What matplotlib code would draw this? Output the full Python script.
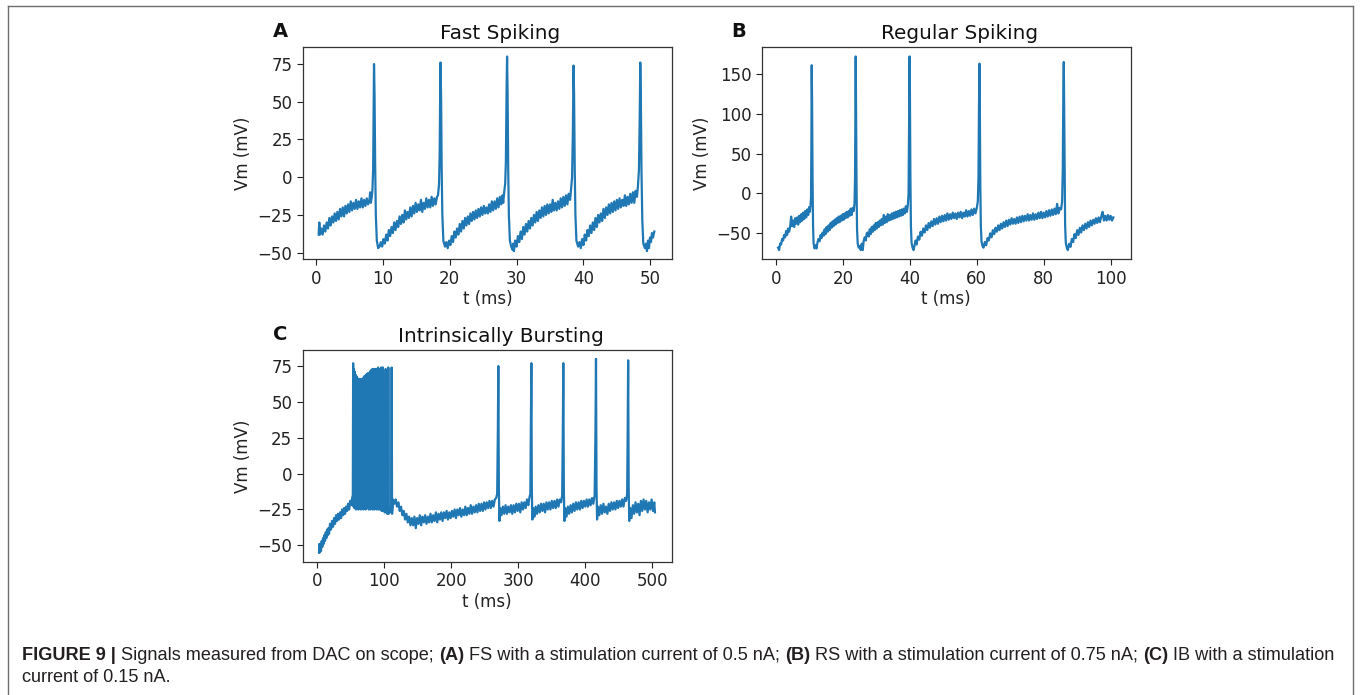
import matplotlib
matplotlib.use("Agg")
import matplotlib.pyplot as plt
from matplotlib.lines import Line2D

# ---- data (t in ms, Vm in mV) ----
fs_trace = [
    (0.4, -38), (0.5, -30), (0.6, -38), (0.8, -34), (1.0, -38), (1.2, -32), (1.4, -36), (1.6, -30),
    (1.8, -34), (2.0, -27), (2.2, -32), (2.4, -26), (2.6, -30), (2.8, -24), (3.0, -29), (3.2, -23),
    (3.4, -28), (3.6, -21), (3.8, -26), (4.0, -20), (4.2, -26), (4.4, -19), (4.6, -24), (4.8, -18),
    (5.0, -23), (5.2, -16), (5.4, -22), (5.6, -17), (5.8, -21), (6.0, -15), (6.2, -21), (6.4, -16),
    (6.6, -20), (6.8, -14), (7.0, -20), (7.2, -15), (7.4, -19), (7.6, -14), (7.8, -18), (8.0, -15),
    (8.1, -10), (8.2, -17), (8.35, -13), (8.45, -8), (8.55, 5), (8.62, 40), (8.68, 75), (8.76, 55),
    (8.85, 10), (8.95, -25), (9.1, -42), (9.3, -47),
    (9.5, -46), (9.7, -43), (9.9, -46), (10.1, -41), (10.3, -44), (10.5, -38), (10.7, -42), (10.9, -35),
    (11.1, -39), (11.3, -33), (11.5, -37), (11.7, -30), (11.9, -35), (12.1, -29), (12.3, -33), (12.5, -26),
    (12.7, -31), (12.9, -25), (13.1, -30), (13.3, -22), (13.5, -28), (13.7, -23), (13.9, -27), (14.1, -20),
    (14.3, -26), (14.5, -19), (14.7, -24), (14.9, -17), (15.1, -23), (15.3, -18), (15.5, -22), (15.7, -15),
    (15.9, -23), (16.1, -17), (16.3, -21), (16.5, -14), (16.7, -20), (16.9, -15), (17.1, -20), (17.3, -13),
    (17.5, -19), (17.7, -14), (17.9, -18), (18.1, -13), (18.25, -12), (18.4, -5), (18.5, 15), (18.58, 60),
    (18.63, 76), (18.72, 50), (18.8, 5), (18.9, -25), (19.05, -42), (19.3, -46),
    (19.5, -43), (19.7, -47), (19.9, -42), (20.1, -45), (20.3, -39), (20.5, -43), (20.7, -36), (20.9, -40),
    (21.1, -34), (21.3, -38), (21.5, -31), (21.7, -36), (21.9, -29), (22.1, -34), (22.3, -27), (22.5, -32),
    (22.7, -26), (22.9, -31), (23.1, -24), (23.3, -29), (23.5, -23), (23.7, -28), (23.9, -22), (24.1, -27),
    (24.3, -21), (24.5, -26), (24.7, -20), (24.9, -25), (25.1, -19), (25.3, -24), (25.5, -20), (25.7, -24),
    (25.9, -18), (26.1, -23), (26.3, -16), (26.5, -22), (26.7, -16), (26.9, -21), (27.1, -14), (27.3, -20),
    (27.5, -13), (27.7, -18), (27.9, -12), (28.0, -17), (28.15, -10), (28.3, -4), (28.4, 10), (28.5, 55),
    (28.58, 80), (28.66, 55), (28.75, 5), (28.85, -25), (29.0, -42), (29.2, -46), (29.4, -48),
    (29.5, -44), (29.6, -49), (29.8, -42), (30.0, -46), (30.2, -39), (30.4, -43), (30.6, -36), (30.8, -41),
    (31.0, -33), (31.2, -38), (31.4, -31), (31.6, -36), (31.8, -29), (32.0, -34), (32.2, -27), (32.4, -32),
    (32.6, -25), (32.8, -30), (33.0, -23), (33.2, -29), (33.4, -22), (33.6, -27), (33.8, -20), (34.0, -26),
    (34.2, -19), (34.4, -25), (34.6, -18), (34.8, -24), (35.0, -18), (35.2, -23), (35.4, -15), (35.6, -22),
    (35.8, -17), (36.0, -22), (36.2, -16), (36.4, -21), (36.6, -14), (36.8, -20), (37.0, -13), (37.2, -19),
    (37.4, -12), (37.6, -18), (37.8, -11), (38.0, -15), (38.15, -8), (38.3, 0), (38.42, 30), (38.52, 74),
    (38.6, 55), (38.7, 5), (38.8, -25), (38.95, -42), (39.2, -46),
    (39.4, -43), (39.6, -47), (39.8, -41), (40.0, -45), (40.2, -38), (40.4, -42), (40.6, -35), (40.8, -39),
    (41.0, -32), (41.2, -37), (41.4, -30), (41.6, -35), (41.8, -27), (42.0, -33), (42.2, -25), (42.4, -30),
    (42.6, -24), (42.8, -29), (43.0, -21), (43.2, -27), (43.4, -20), (43.6, -25), (43.8, -18), (44.0, -24),
    (44.2, -17), (44.4, -23), (44.6, -16), (44.8, -22), (45.0, -15), (45.2, -21), (45.4, -14), (45.6, -20),
    (45.8, -15), (46.0, -19), (46.2, -12), (46.4, -19), (46.6, -13), (46.8, -18), (47.0, -11), (47.2, -17),
    (47.4, -10), (47.6, -17), (47.8, -9), (48.0, -13), (48.15, -6), (48.3, 5), (48.42, 40), (48.5, 76),
    (48.58, 55), (48.68, 5), (48.8, -28), (48.95, -44), (49.2, -47),
    (49.35, -44), (49.5, -49), (49.65, -42), (49.8, -47), (49.95, -40), (50.1, -43), (50.25, -37),
    (50.4, -40), (50.6, -36),
]

rs_trace = [
    (0.6, -68), (0.9, -71), (1.2, -63), (1.5, -64), (1.8, -57), (2.1, -59), (2.4, -52), (2.7, -55),
    (3.0, -47), (3.3, -52), (3.6, -44), (3.9, -48), (4.2, -42), (4.5, -29), (4.8, -41), (5.1, -34),
    (5.4, -42), (5.7, -31), (6.0, -38), (6.3, -30), (6.6, -39), (6.9, -28), (7.2, -36), (7.5, -26),
    (7.8, -34), (8.1, -24), (8.4, -32), (8.7, -22), (9.0, -30), (9.3, -20), (9.6, -27), (9.9, -17),
    (10.1, -23), (10.3, -15), (10.45, -5), (10.55, 60), (10.65, 161), (10.75, 120), (10.9, 20),
    (11.05, -40), (11.2, -62), (11.5, -69),
    (11.8, -65), (12.1, -69), (12.4, -61), (12.7, -57), (13.0, -60), (13.3, -52), (13.6, -56), (13.9, -49),
    (14.2, -53), (14.5, -45), (14.8, -51), (15.1, -42), (15.4, -48), (15.7, -40), (16.0, -46), (16.3, -37),
    (16.6, -43), (16.9, -35), (17.2, -41), (17.5, -33), (17.8, -39), (18.1, -31), (18.4, -37), (18.7, -29),
    (19.0, -36), (19.3, -28), (19.6, -34), (19.9, -26), (20.2, -33), (20.5, -25), (20.8, -31), (21.1, -23),
    (21.4, -30), (21.7, -22), (22.0, -28), (22.3, -19), (22.6, -27), (22.9, -18), (23.2, -22), (23.45, -12),
    (23.6, 20), (23.72, 120), (23.8, 172), (23.9, 110), (24.05, 10), (24.2, -45), (24.4, -63), (24.7, -68),
    (25.0, -66), (25.3, -71),
    (25.6, -63), (25.9, -71), (26.2, -59), (26.5, -55), (26.8, -59), (27.1, -50), (27.4, -49), (27.7, -54),
    (28.0, -45), (28.3, -51), (28.6, -42), (28.9, -48), (29.2, -40), (29.5, -46), (29.8, -37), (30.1, -44),
    (30.4, -36), (30.7, -42), (31.0, -34), (31.3, -40), (31.6, -32), (31.9, -39), (32.2, -27), (32.5, -37),
    (32.8, -29), (33.1, -36), (33.4, -26), (33.7, -34), (34.0, -27), (34.3, -33), (34.6, -25), (34.9, -32),
    (35.2, -24), (35.5, -31), (35.8, -23), (36.1, -30), (36.4, -22), (36.7, -29), (37.0, -21), (37.3, -28),
    (37.6, -20), (37.9, -27), (38.2, -19), (38.5, -25), (38.8, -16), (39.1, -23), (39.4, -14), (39.6, 0),
    (39.75, 80), (39.9, 172), (40.0, 130), (40.15, 20), (40.3, -40), (40.5, -62), (40.8, -68), (41.1, -71),
    (41.4, -65), (41.7, -59), (42.0, -64), (42.4, -54), (42.8, -58), (43.2, -48), (43.6, -53), (44.0, -44),
    (44.4, -49), (44.8, -40), (45.2, -46), (45.6, -37), (46.0, -43), (46.4, -35), (46.8, -41), (47.2, -32),
    (47.6, -39), (48.0, -31), (48.4, -38), (48.8, -29), (49.2, -36), (49.6, -28), (50.0, -35), (50.4, -27),
    (50.8, -34), (51.2, -25), (51.6, -33), (52.0, -26), (52.4, -32), (52.8, -24), (53.2, -31), (53.6, -25),
    (54.0, -32), (54.4, -24), (54.8, -30), (55.2, -23), (55.6, -31), (56.0, -24), (56.4, -29), (56.8, -21),
    (57.2, -29), (57.6, -22), (58.0, -28), (58.4, -20), (58.8, -27), (59.2, -19), (59.6, -25), (60.0, -18),
    (60.3, -10), (60.5, 20), (60.65, 110), (60.8, 163), (60.9, 110), (61.05, 10), (61.2, -40), (61.4, -60),
    (61.7, -66), (62.0, -68),
    (62.4, -61), (62.8, -65), (63.2, -56), (63.6, -59), (64.0, -50), (64.4, -55), (64.8, -46), (65.2, -51),
    (65.6, -43), (66.0, -48), (66.4, -40), (66.8, -46), (67.2, -38), (67.6, -44), (68.0, -36), (68.4, -42),
    (68.8, -34), (69.2, -41), (69.6, -33), (70.0, -39), (70.4, -31), (70.8, -38), (71.2, -32), (71.6, -38),
    (72.0, -30), (72.4, -37), (72.8, -29), (73.2, -36), (73.6, -28), (74.0, -35), (74.4, -28), (74.8, -34),
    (75.2, -26), (75.6, -34), (76.0, -27), (76.4, -33), (76.8, -25), (77.2, -33), (77.6, -26), (78.0, -32),
    (78.4, -24), (78.8, -31), (79.2, -23), (79.6, -31), (80.0, -24), (80.4, -30), (80.8, -22), (81.2, -29),
    (81.6, -21), (82.0, -28), (82.4, -20), (82.8, -27), (83.2, -19), (83.6, -26), (84.0, -13), (84.4, -25),
    (84.8, -18), (85.2, -20), (85.5, -10), (85.7, 30), (85.85, 120), (86.0, 165), (86.1, 110), (86.25, 10),
    (86.4, -40), (86.6, -62), (86.9, -68), (87.2, -71),
    (87.6, -63), (88.0, -67), (88.4, -57), (88.8, -61), (89.2, -51), (89.6, -56), (90.0, -46), (90.4, -52),
    (90.8, -43), (91.2, -49), (91.6, -40), (92.0, -46), (92.4, -38), (92.8, -44), (93.2, -36), (93.6, -42),
    (94.0, -34), (94.4, -40), (94.8, -33), (95.2, -38), (95.6, -31), (96.0, -37), (96.4, -30), (96.8, -36),
    (97.2, -29), (97.6, -23), (98.0, -34), (98.4, -28), (98.8, -34), (99.2, -27), (99.6, -33), (100.0, -28),
    (100.4, -34), (100.8, -30),
]

ib_trace = [
    (2.5, -55), (3.0, -49), (3.5, -55), (4.5, -50), (5.5, -54), (6.5, -47), (7.5, -51), (8.5, -45),
    (9.5, -49), (10.5, -43), (11.5, -47), (12.5, -41), (13.5, -45), (14.5, -39), (15.5, -43), (16.5, -38),
    (17.5, -42), (19.0, -35), (20.5, -39), (22.0, -33), (23.5, -37), (25.0, -31), (26.5, -35), (28.0, -29),
    (29.5, -33), (31.0, -28), (32.5, -32), (34.0, -27), (35.5, -31), (37.0, -25), (38.5, -29), (40.0, -24),
    (41.5, -28), (43.0, -23), (44.5, -26), (46.0, -21), (47.5, -25), (49.0, -19), (50.5, -22), (52.0, -17),
    (53.0, -15),
    # burst
    (53.5, 77), (54.1, -23), (54.7, 73), (55.3, -24), (55.9, 71), (56.5, -23), (57.1, 69), (57.7, -25),
    (58.3, 68), (58.9, -24), (59.5, 67), (60.1, -23), (60.7, 66), (61.3, -25), (61.9, 65), (62.5, -24),
    (63.1, 66), (63.7, -23), (64.3, 65), (64.9, -25), (65.5, 66), (66.1, -24), (66.7, 65), (67.3, -23),
    (67.9, 66), (68.5, -25), (69.1, 67), (69.7, -24), (70.3, 68), (70.9, -23), (71.5, 68), (72.1, -25),
    (72.7, 69), (73.3, -24), (73.9, 69), (74.5, -24), (75.1, 70), (75.7, -23), (76.3, 69), (76.9, -25),
    (77.5, 70), (78.1, -24), (78.7, 71), (79.3, -25), (79.9, 72), (80.5, -24), (81.1, 72), (81.7, -23),
    (82.3, 73), (82.9, -25), (83.5, 72), (84.1, -24), (84.7, 73), (85.3, -25), (85.9, 72), (86.5, -24),
    (87.1, 73), (87.7, -23), (88.3, 72), (88.9, -25), (89.5, 73), (90.1, -24), (90.7, 74), (91.3, -25),
    (91.9, 73), (92.5, -24), (93.1, 72), (93.7, -25), (94.3, 73), (94.9, -24), (95.5, 74), (96.1, -26),
    (96.7, 73), (97.3, -25), (97.9, 74), (98.6, -26), (99.5, -24), (100.5, -27), (101.5, -25), (102.0, 73),
    (102.6, -27), (103.5, -24), (104.5, -28), (105.5, -25), (106.0, 74), (106.6, -28), (107.5, -25),
    (108.5, -27), (109.5, -23), (110.3, -26), (111.0, 74), (111.6, -28), (112.3, -24),
    # slow trough after burst
    (113.0, -18), (115.0, -21), (117.0, -18), (119.0, -23), (121.0, -20), (123.0, -26), (125.0, -23),
    (127.0, -29), (129.0, -26), (131.0, -32), (133.0, -28), (135.0, -34), (137.0, -30), (139.0, -36),
    (141.0, -31), (143.0, -36), (145.0, -30), (147.0, -38), (149.0, -31), (151.0, -35), (153.0, -29),
    (155.0, -36), (157.0, -30), (159.0, -34), (161.0, -29), (163.0, -35), (165.0, -30), (167.0, -34),
    (169.0, -28), (171.0, -34), (173.0, -29), (175.0, -33), (177.0, -27), (179.0, -34), (181.0, -28),
    (183.0, -32), (185.0, -27), (187.0, -33), (189.0, -27), (191.0, -31), (193.0, -26), (195.0, -32),
    (197.0, -27), (199.0, -31), (201.0, -26), (203.0, -30), (205.0, -25), (207.0, -31), (209.0, -25),
    (211.0, -29), (213.0, -24), (215.0, -30), (217.0, -25), (219.0, -29), (221.0, -23), (223.0, -29),
    (225.0, -24), (227.0, -28), (229.0, -22), (231.0, -28), (233.0, -23), (235.0, -27), (237.0, -22),
    (239.0, -27), (241.0, -21), (243.0, -26), (245.0, -21), (247.0, -26), (249.0, -20), (251.0, -25),
    (253.0, -20), (255.0, -24), (257.0, -19), (259.0, -24), (261.0, -19), (263.0, -23), (265.0, -18),
    (267.0, -17), (268.5, -14), (269.5, 30), (270.2, 75), (271.0, -10), (271.8, -33),
    (273.0, -24), (275.0, -29), (277.0, -23), (279.0, -28), (281.0, -22), (283.0, -28), (285.0, -23),
    (287.0, -27), (289.0, -22), (291.0, -28), (293.0, -22), (295.0, -27), (297.0, -21), (299.0, -26),
    (301.0, -21), (303.0, -27), (305.0, -20), (307.0, -25), (309.0, -20), (311.0, -24), (313.0, -18),
    (315.0, -22), (316.5, -17), (318.0, -14), (318.8, 30), (319.5, 77), (320.2, -10), (321.0, -32),
    (322.5, -24), (324.0, -30), (326.0, -23), (328.0, -28), (330.0, -22), (332.0, -27), (334.0, -21),
    (336.0, -26), (338.0, -21), (340.0, -27), (342.0, -20), (344.0, -25), (346.0, -20), (348.0, -25),
    (350.0, -19), (352.0, -24), (354.0, -19), (356.0, -24), (358.0, -18), (360.0, -23), (362.0, -18),
    (364.0, -20), (365.5, -15), (366.5, 30), (367.2, 77), (368.0, -10), (368.8, -33),
    (370.0, -24), (372.0, -30), (374.0, -23), (376.0, -28), (378.0, -22), (380.0, -27), (382.0, -21),
    (384.0, -26), (386.0, -20), (388.0, -25), (390.0, -20), (392.0, -25), (394.0, -19), (396.0, -24),
    (398.0, -19), (400.0, -23), (402.0, -18), (404.0, -23), (406.0, -18), (408.0, -22), (410.0, -17),
    (412.0, -21), (414.0, -15), (415.2, 30), (416.0, 80), (416.8, -10), (417.6, -32),
    (419.0, -23), (421.0, -29), (423.0, -22), (425.0, -28), (427.0, -21), (429.0, -27), (431.0, -23),
    (433.0, -28), (435.0, -21), (437.0, -26), (439.0, -20), (441.0, -25), (443.0, -20), (445.0, -25),
    (447.0, -19), (449.0, -24), (451.0, -19), (453.0, -23), (455.0, -18), (457.0, -23), (459.0, -17),
    (461.0, -19), (462.5, -14), (463.3, 30), (464.0, 79), (464.8, -10), (465.6, -33),
    (467.0, -24), (469.0, -31), (471.0, -22), (473.0, -28), (475.0, -20), (477.0, -27), (479.0, -21),
    (481.0, -29), (483.0, -19), (485.0, -26), (487.0, -18), (489.0, -25), (491.0, -19), (493.0, -27),
    (495.0, -20), (497.0, -25), (499.0, -18), (501.0, -26), (503.0, -20), (504.0, -27),
]

panel_titles = ["Fast Spiking", "Regular Spiking", "Intrinsically Bursting"]
panel_letters = ["A", "B", "C"]
x_ticks = [[0, 10, 20, 30, 40, 50], [0, 20, 40, 60, 80, 100], [0, 100, 200, 300, 400, 500]]
y_ticks = [[-50, -25, 0, 25, 50, 75], [-50, 0, 50, 100, 150], [-50, -25, 0, 25, 50, 75]]

caption_pieces = [
    ("FIGURE 9 |", "bold"), ("Signals measured from DAC on scope;", "normal"),
    ("(A)", "bold"), ("FS with a stimulation current of 0.5 nA;", "normal"),
    ("(B)", "bold"), ("RS with a stimulation current of 0.75 nA;", "normal"),
    ("(C)", "bold"), ("IB with a stimulation", "normal"),
]
caption_line2 = "current of 0.15 nA."


def create_figure():
    plt.rcParams['font.family'] = 'DejaVu Sans'
    plt.rcParams['axes.unicode_minus'] = True
    W, H = 1360, 695
    fig = plt.figure(figsize=(W / 100, H / 100), dpi=100)

    # axes boxes in pixels: left, top, right, bottom
    boxes = [(303, 47.3, 671.7, 259.3), (761.7, 47.3, 1130.7, 259.3), (302.7, 350, 671.7, 561.7)]
    xlims = [(-1.94, 53.2), (-4.3, 106.0), (-21.8, 529.0)]
    ylims = [(-54.4, 86.1), (-82.6, 183.5), (-61.4, 86.2)]
    traces = [fs_trace, rs_trace, ib_trace]

    for i, (l, t, r, b) in enumerate(boxes):
        ax = fig.add_axes([l / W, (H - b) / H, (r - l) / W, (b - t) / H])
        tt, vv = zip(*traces[i])
        ax.plot(tt, vv, color='#1f77b4', lw=1.6)
        ax.set_xlim(*xlims[i])
        ax.set_ylim(*ylims[i])
        ax.set_xticks(x_ticks[i])
        ax.set_yticks(y_ticks[i])
        ax.tick_params(labelsize=12, colors='#222222', width=0.8, length=4)
        for sp in ax.spines.values():
            sp.set_color('#333333')
            sp.set_linewidth(0.9)
        ax.set_xlabel("t (ms)", fontsize=12, color='#222222', labelpad=2)
        ax.set_ylabel("Vm (mV)", fontsize=12, color='#222222', labelpad=4)
        ax.set_title(panel_titles[i], fontsize=14.4, x=0.536, pad=6, color='#111111')
        fig.text((l - 23) / W, 1 - (t - 16) / H, panel_letters[i], fontsize=14,
                 fontweight='bold', ha='center', va='center', color='#111111')

    # outer frame (open at the bottom)
    frame_kw = dict(color='#6e6e6e', lw=1.0, transform=None)
    fig.add_artist(Line2D([7.8, 1352.5], [H - 6.3, H - 6.3], **frame_kw))
    fig.add_artist(Line2D([7.8, 7.8], [H - 6.3, 0], **frame_kw))
    fig.add_artist(Line2D([1352.5, 1352.5], [H - 6.3, 0], **frame_kw))

    # caption with mixed bold / regular runs
    fig.canvas.draw()
    renderer = fig.canvas.get_renderer()
    cap_font = ['Liberation Sans', 'DejaVu Sans']
    cap_size = 13.05
    x = 22.5
    y1 = H - 659.5
    gap = 0.278 * cap_size * 100 / 72
    for s, w in caption_pieces:
        txt = fig.text(x / W, y1 / H, s, fontsize=cap_size, fontweight=w, family=cap_font,
                       color='#231f20', ha='left', va='baseline')
        x += txt.get_window_extent(renderer).width + gap
    fig.text(22.5 / W, (H - 682) / H, caption_line2, fontsize=cap_size, family=cap_font,
             color='#231f20', ha='left', va='baseline')

    fig.savefig('out.png', dpi=100)


if __name__ == "__main__":
    create_figure()
